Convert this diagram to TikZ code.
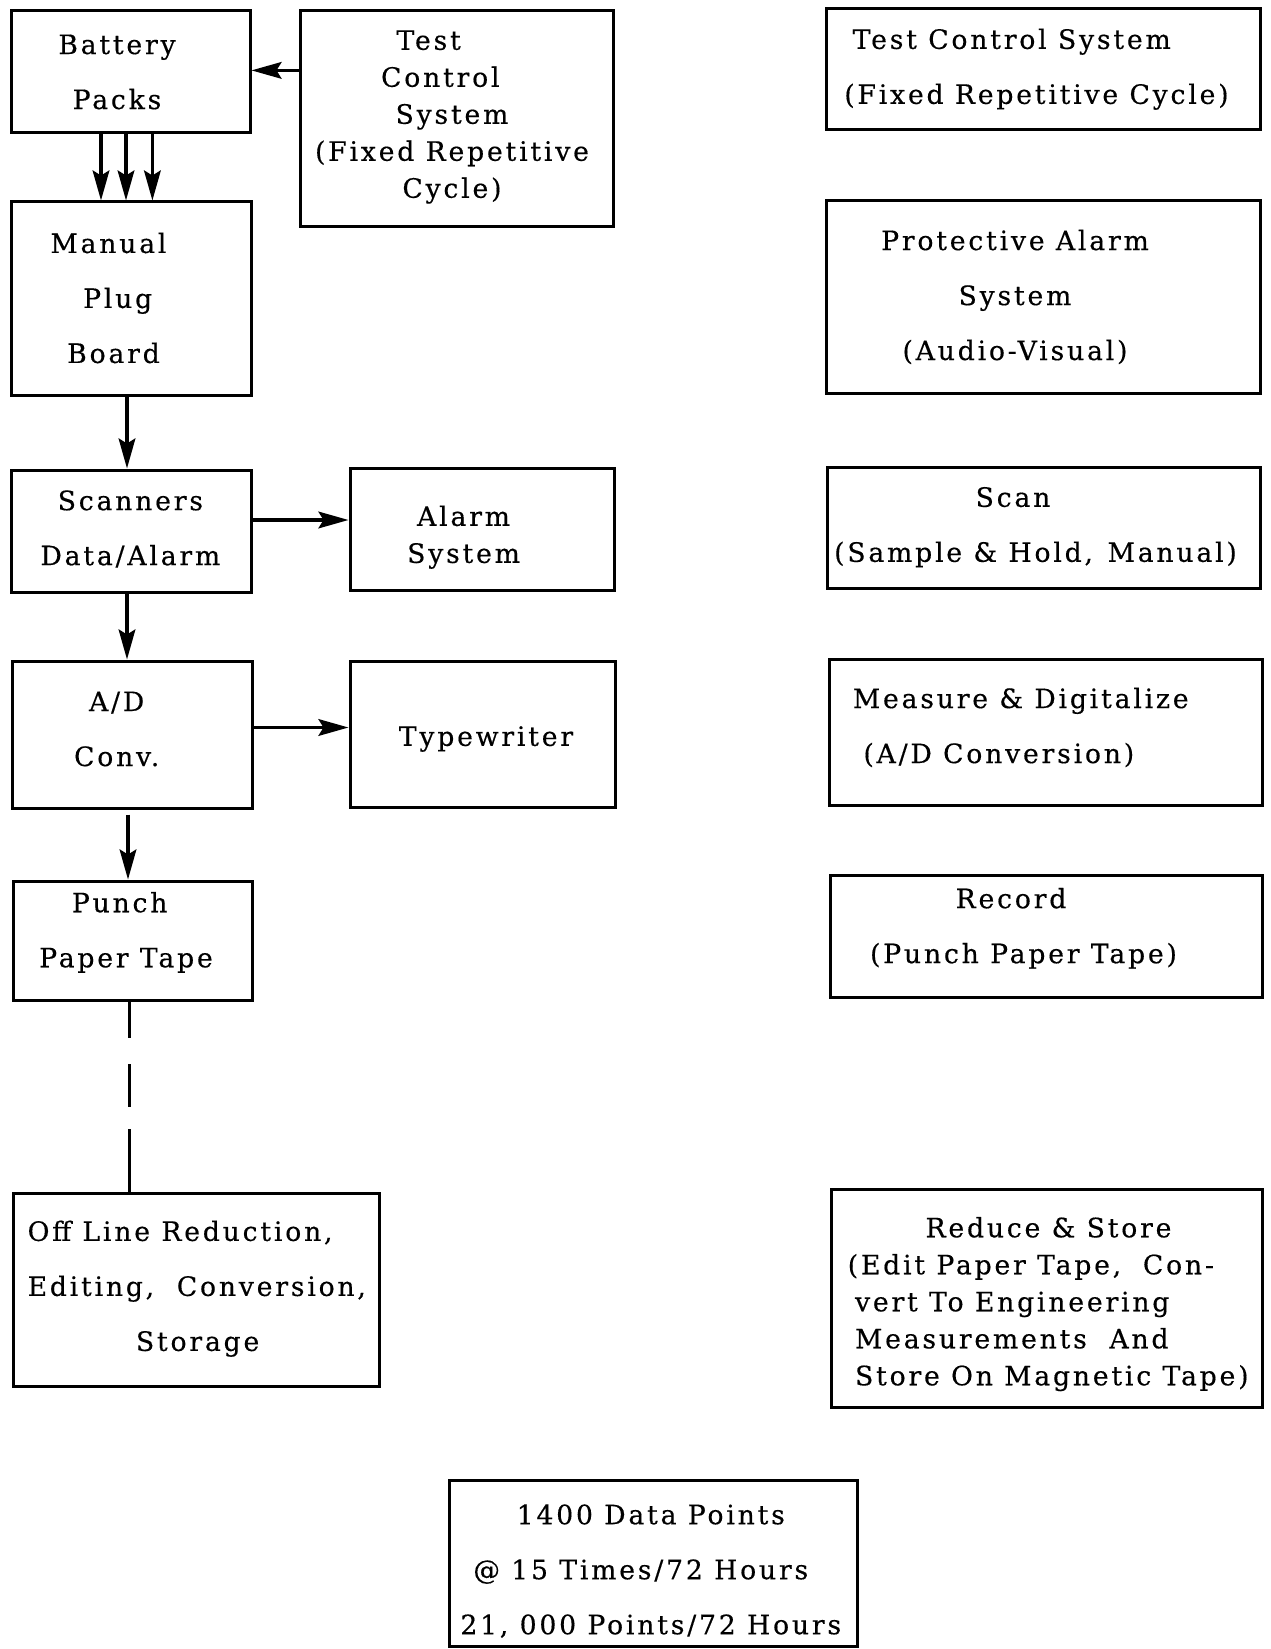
\documentclass[tikz,border=0pt]{standalone}
\usepackage{fontspec}
\setmainfont{DejaVu Serif}[LetterSpace=10.5, FakeBold=0.4]
\usetikzlibrary{arrows.meta,calc,fit}

\tikzset{
  box/.style={draw, line width=1.8pt, inner sep=0pt},
  dbl/.style={inner sep=0pt, align=center, font=\fontsize{16}{33}\selectfont},
  sgl/.style={inner sep=0pt, align=center, font=\fontsize{16}{22.2}\selectfont},
  arr/.style={line width=2pt, -{Stealth[length=18pt,width=10pt,inset=3pt]}},
  dashlink/.style={line width=1.8pt,
    dash pattern=on 22pt off 15.5pt on 26pt off 13pt on 60pt},
}

\begin{document}
\begin{tikzpicture}[x=0.6pt,y=-0.6pt]
  \useasboundingbox[fill=white] (0,0) rectangle (1270,1649);

  % ---- left column: equipment chain ----
  \node[box, fit={(11.6,10.5) (250,132.5)}] (battery) {};
  \node[box, fit={(300.7,10.5) (613,227)}] (tcs) {};
  \node[box, fit={(11.6,202) (251,396)}] (manual) {};
  \node[box, fit={(11.6,470) (251,592)}] (scanners) {};
  \node[box, fit={(350,468) (614,590)}] (alarm) {};
  \node[box, fit={(12.6,661) (252,808)}] (adconv) {};
  \node[box, fit={(350,661) (615,807)}] (typewriter) {};
  \node[box, fit={(13.7,881) (252,1000)}] (punch) {};
  \node[box, fit={(13.7,1193) (379.5,1386)}] (offline) {};

  \node[dbl] (batteryT) at (117,72) {Battery\\Packs};
  \node[sgl] (tcsT) at (452,117)
    {Test\kern28pt\\Control\kern14pt\\System\\(Fixed Repetitive\\Cycle)};
  \node[dbl] (manualT) at (113.5,298)
    {Manual\kern6pt\\\hspace*{5pt}Plug\\Board};
  \node[dbl] (scannersT) at (130.4,529) {Scanners\\Data/Alarm};
  \node[sgl] (alarmT) at (463.6,537.2) {Alarm\\System};
  \node[dbl] (adconvT) at (116.7,729) {A/D\\Conv.};
  \node[dbl] (typewriterT) at (486,739) {Typewriter};
  \node[dbl] (punchT) at (126,932.4) {Punch\kern7.6pt\\Paper Tape};
  \node[dbl, align=left, anchor=west] (offlineT) at (27.3,1288.7)
    {Off Line Reduction,\\Editing,\ \ Conversion,\\\hspace*{65pt}Storage};

  % ---- right column: functions ----
  \node[box, fit={(826,8.4) (1260.5,130)}] (fTest) {};
  \node[box, fit={(826,201) (1260.5,394)}] (fAlarm) {};
  \node[box, fit={(827,467) (1260.5,588)}] (fScan) {};
  \node[box, fit={(829.5,659) (1262.5,805)}] (fMeasure) {};
  \node[box, fit={(830.5,875) (1262.5,997)}] (fRecord) {};
  \node[box, fit={(831.5,1189) (1262.5,1407)}] (fReduce) {};

  \node[dbl, align=left, anchor=west] (fTestT) at (844,69.2)
    {\hspace*{5pt}Test Control System\\(Fixed Repetitive Cycle)};
  \node[dbl] (fAlarmT) at (1015,297)
    {Protective Alarm\\System\\(Audio-Visual)};
  \node[dbl] (fScanT) at (1035.5,527.2)
    {Scan\kern27pt\\(Sample \& Hold, \hspace{2pt}Manual)};
  \node[dbl, align=left, anchor=west] (fMeasureT) at (852.6,727.5)
    {Measure \& Digitalize\\\hspace*{6.3pt}(A/D Conversion)};
  \node[dbl] (fRecordT) at (1023.5,928.3)
    {Record\kern15pt\\(Punch Paper Tape)};
  \node[sgl, align=left, anchor=west] (fReduceT) at (847.4,1304.1)
    {\hspace*{46.7pt}Reduce \& Store\\(Edit Paper Tape,\hspace{13pt}Con-\\
     \hspace*{4.4pt}vert To Engineering\\
     \hspace*{4.4pt}Measurements\ \ And\\
     \hspace*{4.4pt}Store On Magnetic Tape)};

  % ---- data volume ----
  \node[box, fit={(449,1480) (857,1646)}] (volume) {};
  \node[dbl] (volumeT) at (650.8,1571.1)
    {1400 Data Points\\@ 15 Times/72 Hours\kern12pt\\21, 000 Points/72 Hours};

  % ---- connectors ----
  \coordinate (yTcs) at (0,70.4);
  \coordinate (xB1) at (101,0);
  \coordinate (xB2) at (126,0);
  \coordinate (xB3) at (152.4,0);
  \coordinate (xMain) at (127,0);
  \coordinate (xPunch) at (128,0);
  \coordinate (xDash) at (129,0);
  \coordinate (yAlarm) at (0,520);
  \coordinate (yType) at (0,727.5);

  \draw[arr] (tcs.west |- yTcs) -- (battery.east |- yTcs);
  \draw[arr] (battery.south -| xB1) -- (manual.north -| xB1);
  \draw[arr] (battery.south -| xB2) -- (manual.north -| xB2);
  \draw[arr] (battery.south -| xB3) -- (manual.north -| xB3);
  \draw[arr] (manual.south -| xMain) -- (scanners.north -| xMain);
  \draw[arr] (scanners.east |- yAlarm) -- (alarm.west |- yAlarm);
  \draw[arr] (scanners.south -| xMain) -- (adconv.north -| xMain);
  \draw[arr] (adconv.east |- yType) -- (typewriter.west |- yType);
  \draw[arr, shorten <=3pt] (adconv.south -| xPunch) -- (punch.north -| xPunch);
  \draw[dashlink] (punch.south -| xDash) -- (offline.north -| xDash);
\end{tikzpicture}
\end{document}
